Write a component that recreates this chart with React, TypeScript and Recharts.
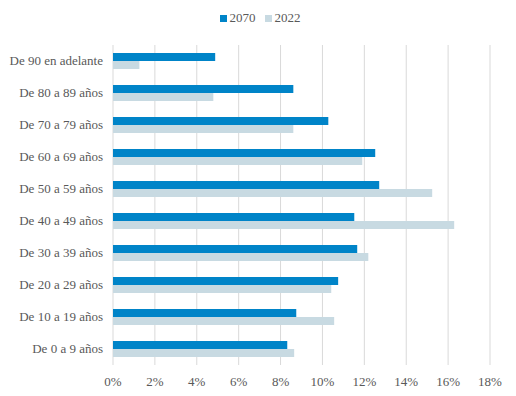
import React from 'react';
import { BarChart, Bar, XAxis, YAxis, CartesianGrid, Legend } from 'recharts';

const categories = [
  'De 90 en adelante',
  'De 80 a 89 años',
  'De 70 a 79 años',
  'De 60 a 69 años',
  'De 50 a 59 años',
  'De 40 a 49 años',
  'De 30 a 39 años',
  'De 20 a 29 años',
  'De 10 a 19 años',
  'De 0 a 9 años',
];

const values2070 = [4.88, 8.61, 10.28, 12.52, 12.71, 11.52, 11.66, 10.75, 8.75, 8.32];
const values2022 = [1.26, 4.79, 8.61, 11.9, 15.24, 16.29, 12.19, 10.42, 10.56, 8.65];

const xTicks = [0, 2, 4, 6, 8, 10, 12, 14, 16, 18];

const seriesColors = { '2070': '#0084C8', '2022': '#C8DAE2' };

const data = categories.map((name, i) => ({
  name,
  '2070': values2070[i],
  '2022': values2022[i],
}));

const FONT = '"Liberation Serif", "Times New Roman", serif';

const YTick = ({ x, y, payload }: any) => (
  <text x={x} y={y} dy={4} textAnchor="end" style={{ fontFamily: FONT, fontSize: 13, fill: '#595959' }}>
    {payload.value}
  </text>
);

const XTick = ({ x, y, payload }: any) => (
  <text x={x} y={y} dy={13} textAnchor="middle" style={{ fontFamily: FONT, fontSize: 13, fill: '#595959' }}>
    {`${payload.value}%`}
  </text>
);

const LegendContent = () => (
  <div style={{ display: 'flex', justifyContent: 'center', gap: 9, fontFamily: FONT, fontSize: 13, color: '#595959', paddingLeft: 30 }}>
    {(['2070', '2022'] as const).map((k) => (
      <span key={k} style={{ display: 'flex', alignItems: 'center' }}>
        <span style={{ display: 'inline-block', width: 7, height: 7, background: seriesColors[k], marginRight: 3 }} />
        {k}
      </span>
    ))}
  </div>
);

const App: React.FC = () => {
  return (
    <div style={{ position: 'absolute', top: 0, left: 0 }}>
      <BarChart
        width={516}
        height={396}
        data={data}
        layout="vertical"
        barSize={8}
        barGap={0}
        margin={{ top: 20, right: 26, left: 0, bottom: 0 }}
      >
        <CartesianGrid horizontal={false} stroke="#D9D9D9" />
        <XAxis
          type="number"
          domain={[0, 18]}
          ticks={xTicks}
          axisLine={false}
          tickLine={false}
          tick={<XTick />}
          height={31}
          interval={0}
        />
        <YAxis
          type="category"
          dataKey="name"
          width={113}
          axisLine={false}
          tickLine={false}
          tickMargin={4}
          tick={<YTick />}
          interval={0}
        />
        <Legend verticalAlign="top" height={25} wrapperStyle={{ top: 10 }} content={<LegendContent />} />
        <Bar dataKey="2070" fill={seriesColors['2070']} isAnimationActive={false} />
        <Bar dataKey="2022" fill={seriesColors['2022']} isAnimationActive={false} />
      </BarChart>
    </div>
  );
};

export default App;
